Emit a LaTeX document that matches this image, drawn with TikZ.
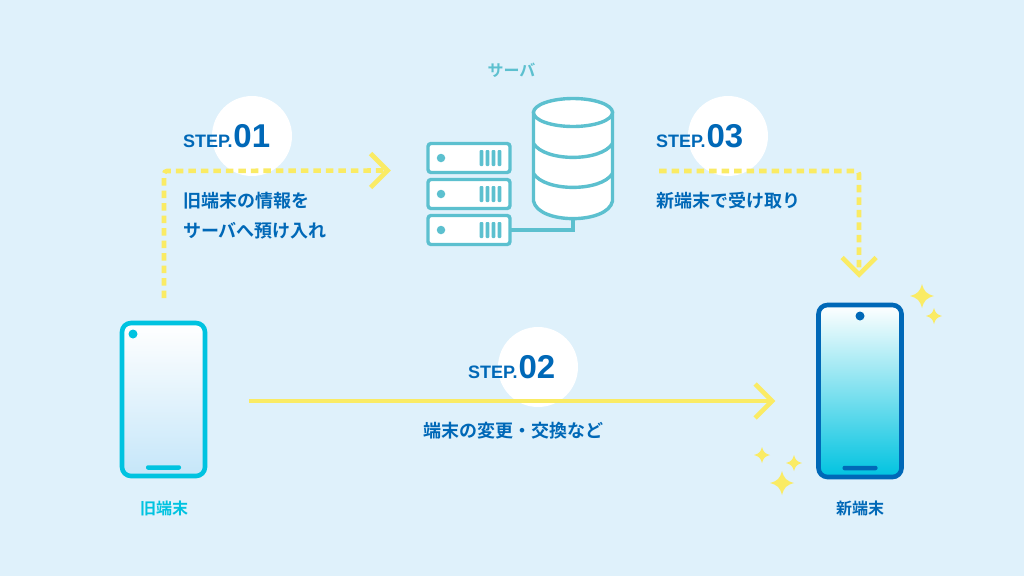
\documentclass[tikz,border=0pt]{standalone}
\usepackage{fontspec}
\setmainfont{Liberation Sans}
\newfontfamily\jpfont{Noto Sans CJK JP Bold}
\definecolor{bgblue}{HTML}{DFF1FB}
\definecolor{stepblue}{HTML}{0068B7}
\definecolor{oldcyan}{HTML}{00C3E0}
\definecolor{srvteal}{HTML}{5CC0CF}
\definecolor{arryellow}{HTML}{FAEB64}
\definecolor{oldlow}{HTML}{C5E6F9}
\newcommand{\fStep}{\fontsize{18}{20}\selectfont\bfseries}
\newcommand{\fNum}{\fontsize{33}{36}\selectfont\bfseries}
\newcommand{\fBody}{\jpfont\fontsize{18}{30}\selectfont}
\newcommand{\fName}{\jpfont\fontsize{16}{20}\selectfont}
\begin{document}
\begin{tikzpicture}[x=1pt,y=-1pt,
    txt/.style={inner sep=0pt,outer sep=0pt},
    steplabel/.style={txt,anchor=base west,text=stepblue},
    bodylabel/.style={txt,anchor=west,align=left,text=stepblue,font=\fBody},
    namelabel/.style={txt,font=\fName},
    whitedisc/.style={circle,fill=white,minimum size=80pt,inner sep=0pt},
    phone/.style={draw,rounded corners=9pt,line width=4.6pt,minimum width=83pt,inner sep=0pt,outer sep=0pt},
    dot/.style={circle,fill,inner sep=0pt},
    homebar/.style={rounded corners=2pt,fill,minimum width=35pt,minimum height=4.5pt,inner sep=0pt},
    rack/.style={draw=srvteal,fill=white,line width=3.4pt,rounded corners=3pt,minimum width=82pt,minimum height=29pt,inner sep=0pt,outer sep=0pt},
    rackbar/.style={fill=srvteal,rounded corners=1pt,minimum width=3.8pt,minimum height=16pt,inner sep=0pt},
    db/.style={draw=srvteal,line width=3.4pt},
    lnk/.style={draw=arryellow,line width=4.6pt},
    dashlnk/.style={lnk,dash pattern=on 7.5pt off 5pt,rounded corners=3pt},
    spark/.pic={\fill[arryellow] (0,-1) .. controls (0.18,-0.36) and (0.36,-0.18) .. (1,0)
      .. controls (0.36,0.18) and (0.18,0.36) .. (0,1)
      .. controls (-0.18,0.36) and (-0.36,0.18) .. (-1,0)
      .. controls (-0.36,-0.18) and (-0.18,-0.36) .. (0,-1) -- cycle;}]
  \path[use as bounding box,fill=bgblue] (0,0) rectangle (1024,576);

  % white discs behind the step labels
  \node[whitedisc] (disc1) at (252,136) {};
  \node[whitedisc] (disc2) at (538,367) {};
  \node[whitedisc] (disc3) at (728,136) {};

  % Step 01: old phone up to the server
  \coordinate (s1start) at (164,298);
  \coordinate (s1bend) at (164,171);
  \coordinate (s1end) at (387.5,170.5);
  \draw[dashlnk] (s1start) -- (s1bend) -- (s1end);
  \draw[lnk] (s1end) ++(-17,-17) -- (s1end) -- +(-17,17);
  \node[steplabel] (step1) at (183,147) {\fStep STEP.\kern0.8pt{\fNum 01}};
  \node[bodylabel] (text1) at (183,216) {旧端末の情報を\\サーバへ預け入れ};

  % Step 03: server across and down to the new phone
  \coordinate (s3start) at (659,171);
  \coordinate (s3bend) at (859,171);
  \coordinate (s3end) at (859,274.5);
  \draw[dashlnk] (s3start) -- (s3bend) -- (s3end);
  \draw[lnk] (s3end) ++(-17,-17) -- (s3end) -- +(17,-17);
  \node[steplabel] (step3) at (656,147) {\fStep STEP.\kern0.8pt{\fNum 03}};
  \node[bodylabel] (text3) at (656,201) {新端末で受け取り};

  % Step 02: straight across
  \coordinate (s2start) at (249,401);
  \coordinate (s2end) at (772,401);
  \draw[lnk] (s2start) -- (s2end);
  \draw[lnk] (s2end) ++(-17,-17) -- (s2end) -- +(-17,17);
  \node[steplabel] (step2) at (468,378) {\fStep STEP.\kern0.8pt{\fNum 02}};
  \node[bodylabel] (text2) at (423,431) {端末の変更・交換など};

  % Server: three racks and the database
  \node[namelabel,text=srvteal] (srvname) at (511.5,70) {サーバ};
  \foreach \i/\y in {1/158,2/194,3/230}{
    \node[rack] (rack\i) at (469,\y) {};
    \node[dot,fill=srvteal,minimum size=8.5pt] (rackdot\i) at (441,\y) {};
    \foreach \j/\x in {1/481.5,2/487.5,3/493.5,4/499.5}
      \node[rackbar] (rackbar\i\j) at (\x,\y) {};
  }
  \coordinate (dbbottom) at (573,219);
  \draw[srvteal,line width=3.4pt] (dbbottom) |- (rack3.east);
  \draw[db,fill=white] (533.5,112.5) -- (533.5,201) .. controls (538,224.5) and (608,224.5) .. (612.5,201) -- (612.5,112.5) -- cycle;
  \draw[db,fill=white] (573,112.5) ellipse [x radius=39.5,y radius=14];
  \draw[db] (533.5,143.5) .. controls (545,162) and (601,162) .. (612.5,143.5);
  \draw[db] (533.5,173.5) .. controls (545,192) and (601,192) .. (612.5,173.5);

  % Old phone
  \node[phone,draw=oldcyan,top color=white,bottom color=oldlow,minimum height=153pt] (oldphone) at (163.5,399.5) {};
  \node[dot,fill=oldcyan,minimum size=9pt] (oldcam) at (133,334) {};
  \node[homebar,fill=oldcyan] (oldbar) at (163.5,467.5) {};
  \node[namelabel,text=oldcyan] (oldname) at (164,508) {旧端末};

  % New phone
  \node[phone,draw=stepblue,top color=white,bottom color=oldcyan,minimum height=172pt] (newphone) at (860,391) {};
  \node[dot,fill=stepblue,minimum size=9pt] (newcam) at (860,316) {};
  \node[homebar,fill=stepblue] (newbar) at (860,468) {};
  \node[namelabel,text=stepblue] (newname) at (860,508) {新端末};

  % Sparkles
  \foreach \x/\y/\r in {922/296/12,934/316/8,762/455/8,794/463/8,782/483/12}
    \path (\x,\y) pic[x=\r pt,y=\r pt] {spark};
\end{tikzpicture}
\end{document}
